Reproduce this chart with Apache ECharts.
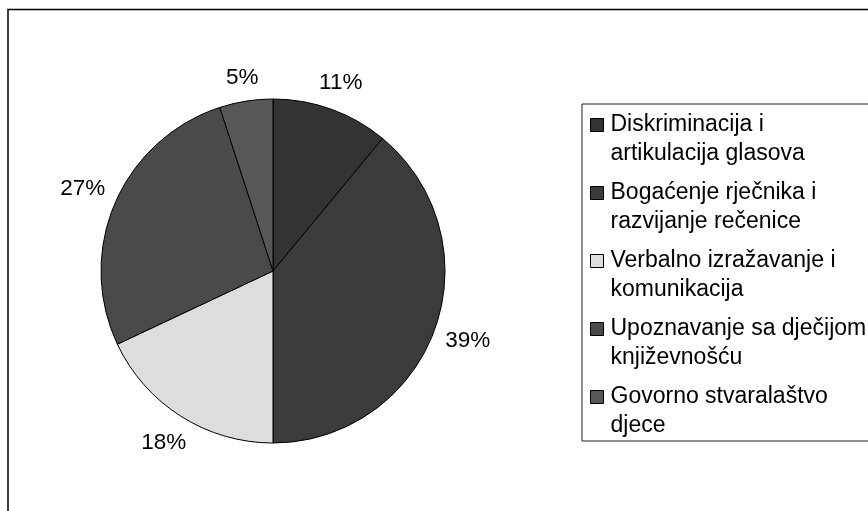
<!DOCTYPE html>
<html>
<head>
<meta charset="utf-8">
<script src="https://cdn.jsdelivr.net/npm/echarts@6/dist/echarts.min.js"></script>
<style>html,body{margin:0;padding:0;background:#fff;}#c{width:868px;height:511px;}</style>
</head>
<body>
<div id="c"></div>
<script>
const categories = [
  'Diskriminacija i\nartikulacija glasova',
  'Bogaćenje rječnika i\nrazvijanje rečenice',
  'Verbalno izražavanje i\nkomunikacija',
  'Upoznavanje sa dječijom\nknjiževnošću',
  'Govorno stvaralaštvo\ndjece'
];
const values = [11, 39, 18, 27, 5];

const palette = ['#333333', '#3b3b3b', '#dddddd', '#4a4a4a', '#575757'];
const FONT = '"Liberation Sans", Arial, sans-serif';
const pieCenter = [273, 271];
const pieRadius = 172;

const total = values.reduce((a, b) => a + b, 0);
const midAngles = [];
let acc = 0;
values.forEach(v => { midAngles.push((acc + v / 2) / total * 2 * Math.PI); acc += v; });

const chart = echarts.init(document.getElementById('c'), null, {renderer: 'canvas'});
chart.setOption({
  animation: false,
  color: palette,
  graphic: [{
    type: 'rect',
    shape: {x: 8, y: 9.5, width: 1000, height: 1000},
    style: {fill: 'none', stroke: '#000', lineWidth: 1.5},
    silent: true
  }],
  legend: {
    orient: 'vertical',
    left: 582,
    top: 104,
    padding: [6, 80, 0, 8],
    itemGap: 9,
    itemWidth: 13,
    itemHeight: 58,
    icon: 'path://M0,0 M0,8h13v13h-13Z M13,58',
    borderColor: '#222',
    borderWidth: 1,
    itemStyle: {borderColor: '#000', borderWidth: 1},
    textStyle: {fontFamily: FONT, fontSize: 23, lineHeight: 29, color: '#000', padding: [0, 0, 0, 2]},
    data: categories
  },
  series: [{
    type: 'pie',
    center: pieCenter,
    radius: pieRadius,
    startAngle: 90,
    clockwise: true,
    avoidLabelOverlap: false,
    itemStyle: {borderColor: '#000', borderWidth: 1},
    label: {
      show: true,
      position: 'outside',
      formatter: '{d}%',
      fontFamily: FONT,
      fontSize: 22.5,
      color: '#000'
    },
    labelLine: {show: false},
    emphasis: {disabled: true},
    labelLayout: function (p) {
      const a = midAngles[p.dataIndex];
      const dx = Math.sin(a), dy = -Math.cos(a);
      const w = p.labelRect.width, h = p.labelRect.height;
      const half = Math.abs(dx) * w / 2 + Math.abs(dy) * h / 2;
      const d = pieRadius + 10 + half;
      return {x: pieCenter[0] + dx * d, y: pieCenter[1] + dy * d, align: 'center', verticalAlign: 'middle'};
    },
    data: categories.map((n, i) => ({name: n, value: values[i]}))
  }]
});
</script>
</body>
</html>
